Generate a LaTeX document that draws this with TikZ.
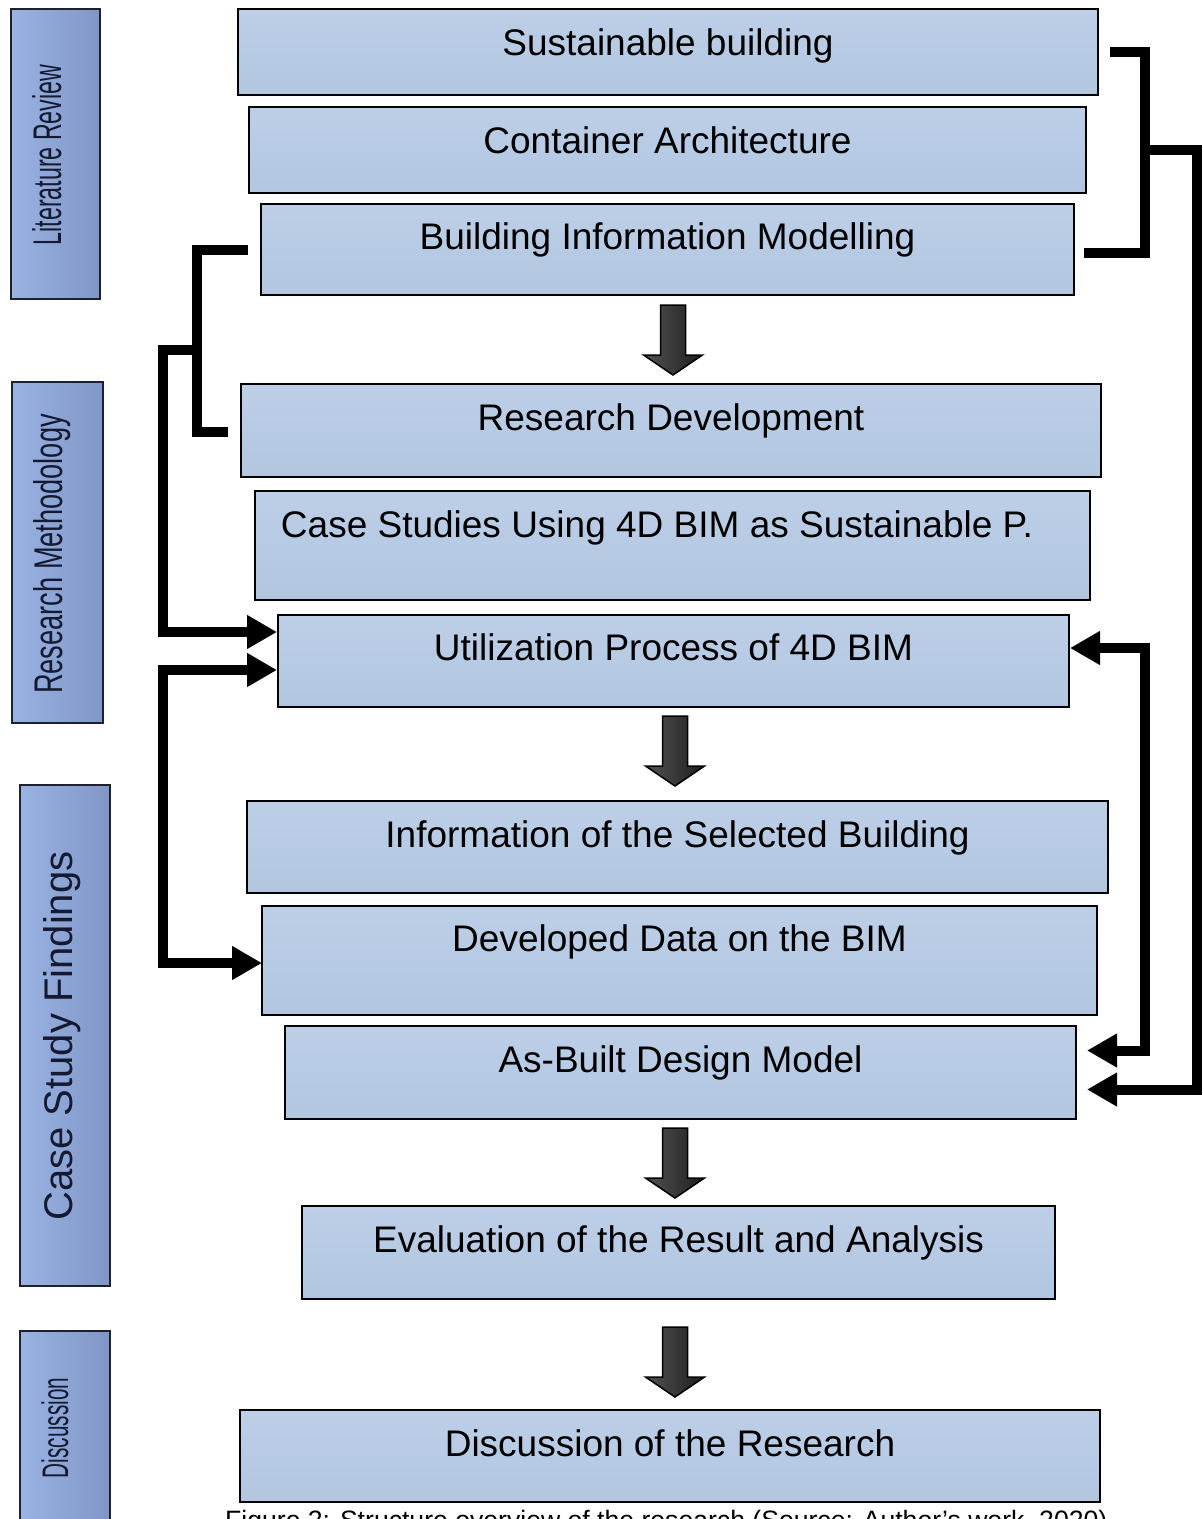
\documentclass[tikz,border=0pt]{standalone}
\usepackage{fontspec}
\setmainfont{Liberation Sans}
\usepackage{graphicx}
\usetikzlibrary{arrows.meta, calc}

\definecolor{boxtop}{RGB}{189,207,231}
\definecolor{boxbot}{RGB}{178,198,224}
\definecolor{phaselight}{RGB}{153,179,227}
\definecolor{phasedark}{RGB}{128,150,198}
\definecolor{phaseline}{RGB}{30,32,45}
\definecolor{phaseink}{RGB}{20,26,50}
\definecolor{arrowhi}{RGB}{82,82,82}
\definecolor{arrowlo}{RGB}{30,30,30}

\tikzset{
  stage/.style={draw, line width=2pt, top color=boxtop, bottom color=boxbot,
    anchor=north west, inner sep=0pt, outer sep=0pt,
    font=\fontsize{37}{44}\selectfont},
  phase/.style={draw=phaseline, line width=2pt, left color=phaselight,
    right color=phasedark, anchor=north west, inner sep=0pt, outer sep=0pt},
  phasetxt/.style={rotate=90, anchor=base, text=phaseink,
    font=\fontsize{40}{48}\selectfont},
  link/.style={line width=10pt},
  blockarrow/.style={draw=black, line width=1.5pt, left color=arrowhi, right color=arrowlo},
}

\begin{document}
\begin{tikzpicture}[x=1pt, y=-1pt, >={Triangle[length=30pt,width=32pt]}]
    \useasboundingbox (0,0) rectangle (1202,1519);
    \clip (0,0) rectangle (1202,1519);

    % phases
    \node[phase, minimum width=89pt, minimum height=290pt] (ph_lit) at (11,9) {};
    \node[phase, minimum width=91pt, minimum height=341pt] (ph_meth) at (12,382) {};
    \node[phase, minimum width=90pt, minimum height=501pt] (ph_case) at (20,785) {};
    \node[phase, minimum width=90pt, minimum height=210pt] (ph_disc) at (20,1331) {};

    \node[phasetxt] (t_lit) at (61,155) {\scalebox{0.58}[1]{Literature Review}};
    \node[phasetxt] (t_meth) at (62,554) {\scalebox{0.68}[1]{Research Methodology}};
    \node[phasetxt] (t_case) at (72,1036) {Case Study Findings};
    \node[phasetxt, font=\fontsize{37}{44}\selectfont] (t_disc) at (68,1428) {\scalebox{0.56}[1]{Discussion}};

    % stages
    \node[stage, minimum width=860pt, text height=46pt, text depth=40pt] (b_sust) at (238,9) {Sustainable building};
    \node[stage, minimum width=837pt, text height=46pt, text depth=40pt] (b_cont) at (249,107) {Container Architecture};
    \node[stage, minimum width=813pt, text height=45pt, text depth=46pt] (b_bim) at (261,204) {Building Information Modelling};
    \node[stage, minimum width=860pt, text height=46pt, text depth=47pt] (b_rdev) at (241,384) {Research Development};
    \node[stage, minimum width=835pt, text height=46pt, text depth=63pt] (b_case) at (255,491) {Case Studies Using 4D BIM as Sustainable P.\hspace{31pt}\null};
    \node[stage, minimum width=791pt, text height=45pt, text depth=47pt] (b_util) at (278,615) {Utilization Process of 4D BIM};
    \node[stage, minimum width=861pt, text height=46pt, text depth=46pt] (b_info) at (247,801) {Information of the Selected Building};
    \node[stage, minimum width=835pt, text height=45pt, text depth=64pt] (b_data) at (262,906) {Developed Data on the BIM};
    \node[stage, minimum width=791pt, text height=46pt, text depth=47pt] (b_asb) at (285,1026) {As-Built Design Model};
    \node[stage, minimum width=753pt, text height=46pt, text depth=47pt] (b_eval) at (302,1206) {Evaluation of the Result and Analysis};
    \node[stage, minimum width=860pt, text height=46pt, text depth=46pt] (b_disc) at (240,1410) {Discussion of the Research};

    % block arrows
    \foreach \x/\y in {673/305, 675/716, 675/1128, 675/1327}
        \filldraw[blockarrow] (\x,\y) ++(-12.5,0) -- ++(25,0) -- ++(0,50) -- ++(17,0)
            -- ++(-29.5,20) -- ++(-29.5,-20) -- ++(17,0) -- cycle;

    % links
    \coordinate (trunk_l) at (197,0);
    \coordinate (trunk_ll) at (163,0);
    \coordinate (trunk_r) at (1145,0);
    \coordinate (trunk_rr) at (1197,0);

    \coordinate (s_in) at ($(b_sust.east)+(12,0)$);
    \coordinate (bim_r) at ($(b_bim.east)+(10,3)$);
    \coordinate (bim_l) at ($(b_bim.west)+(-13,0)$);
    \coordinate (rdev_l) at ($(b_rdev.west)+(-13,1.5)$);
    \coordinate (l_mid) at ($(bim_l -| trunk_l)!0.55!(rdev_l -| trunk_l)$);
    \coordinate (util_l1) at ($(b_util.west)+(-1,-29)$);
    \coordinate (util_l2) at ($(b_util.west)+(-1,9)$);
    \coordinate (data_l) at ($(b_data.west)+(0,2.5)$);
    \coordinate (util_r) at ($(b_util.east)+(1,-13)$);
    \coordinate (asb_hi) at ($(b_asb.east)+(11,-22)$);
    \coordinate (asb_lo) at ($(b_asb.east)+(11,17)$);

    \draw[link] (s_in) -- (s_in -| trunk_r) -- (bim_r -| trunk_r) -- (bim_r);
    \draw[link, ->] (b_cont.east -| trunk_r) -- (b_cont.east -| trunk_rr) -- (asb_lo -| trunk_rr) -- (asb_lo);
    \draw[link, <->] (util_r) -- (util_r -| trunk_r) -- (asb_hi -| trunk_r) -- (asb_hi);

    \draw[link] (bim_l) -- (bim_l -| trunk_l) -- (rdev_l -| trunk_l) -- (rdev_l);
    \draw[link, ->] (l_mid) -- (l_mid -| trunk_ll) -- (util_l1 -| trunk_ll) -- (util_l1);
    \draw[link, <->] (util_l2) -- (util_l2 -| trunk_ll) -- (data_l -| trunk_ll) -- (data_l);

    % caption
    \node[anchor=base west, inner sep=0pt, font=\fontsize{26.6}{32}\selectfont] (caption) at (225,1529)
        {Figure 2: Structure overview of the research (Source: Author's work, 2020)};
\end{tikzpicture}
\end{document}
